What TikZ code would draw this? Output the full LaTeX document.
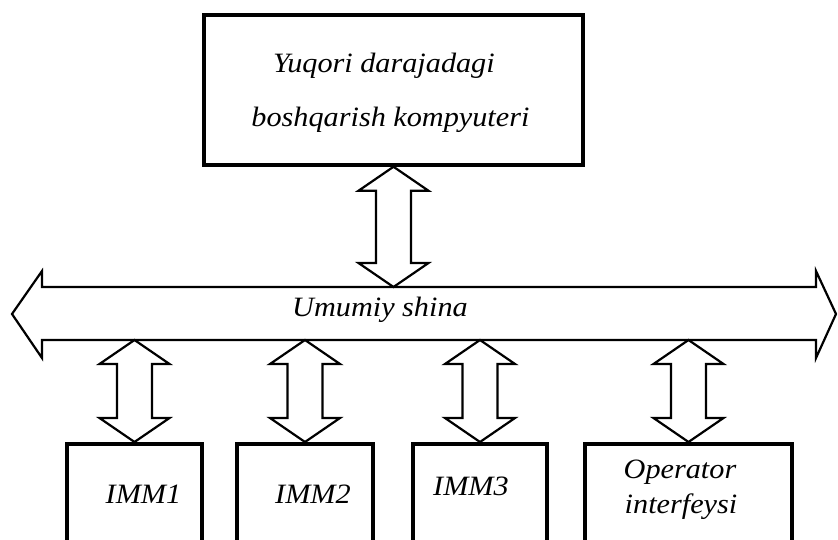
\documentclass[tikz,border=0pt]{standalone}
\usepackage{fontspec}
\setmainfont{Liberation Serif}
\newfontfamily\labfont[FakeStretch=1.08]{Liberation Serif}
\usetikzlibrary{calc}
\tikzset{
  box/.style={draw, line width=3.5pt, fill=white, inner sep=0pt},
  blockarrow/.style={draw, line width=2.2pt, fill=white, line join=miter},
  lbl/.style={font=\labfont\itshape\fontsize{28}{34}\selectfont, anchor=base, inner sep=0pt},
}
\newcommand\vdarrow[2]{%
  \draw[blockarrow] let \p1=(#1), \p2=(#2) in
    (\x1,\y1) -- (\x1+35pt,\y1-24pt) -- (\x1+17.5pt,\y1-24pt) -- (\x1+17.5pt,\y2+24pt)
    -- (\x1+35pt,\y2+24pt) -- (\x1,\y2) -- (\x1-35pt,\y2+24pt) -- (\x1-17.5pt,\y2+24pt)
    -- (\x1-17.5pt,\y1-24pt) -- (\x1-35pt,\y1-24pt) -- cycle;}
\begin{document}
\begin{tikzpicture}[x=1pt,y=-1pt]
\useasboundingbox (0,0) rectangle (838,540);
\clip (0,0) rectangle (838,540);
\fill[white] (0,0) rectangle (838,540);
% top computer
\node[box, minimum width=379pt, minimum height=150pt] (ctrl) at (393.5,90) {};
\node[lbl] (ctrl1) at (384,73) {Yuqori darajadagi};
\node[lbl] (ctrl2) at (390.5,127) {boshqarish kompyuteri};
% bus
\coordinate (busL) at (12,314);
\coordinate (busR) at (836,314);
\coordinate (busTop) at (0,287);
\coordinate (busBot) at (0,340);
\draw[blockarrow] (busL) -- (42,271) -- (42,287) -- (816,287) -- (816,271) -- (busR)
  -- (816,358) -- (816,340) -- (42,340) -- (42,358) -- cycle;
\node[lbl] (bus) at (380,316) {Umumiy shina};
% lower boxes
\node[box, anchor=north, minimum width=135pt, minimum height=130pt] (m1) at (134.5,442) {};
\node[box, anchor=north, minimum width=136pt, minimum height=130pt] (m2) at (305,442) {};
\node[box, anchor=north, minimum width=134pt, minimum height=130pt] (m3) at (480,442) {};
\node[box, anchor=north, minimum width=207pt, minimum height=130pt] (op) at (688.5,442) {};
\node[lbl] (m1t) at (143.5,503) {IMM1};
\node[lbl] (m2t) at (313,503) {IMM2};
\node[lbl] (m3t) at (471,495) {IMM3};
\node[lbl] (op1) at (680,478) {Operator};
\node[lbl] (op2) at (681,513) {interfeysi};
% block arrows
\vdarrow{ctrl.south}{ctrl.south |- busTop}
\vdarrow{m1.north |- busBot}{m1.north}
\vdarrow{m2.north |- busBot}{m2.north}
\vdarrow{m3.north |- busBot}{m3.north}
\vdarrow{op.north |- busBot}{op.north}
\end{tikzpicture}
\end{document}
